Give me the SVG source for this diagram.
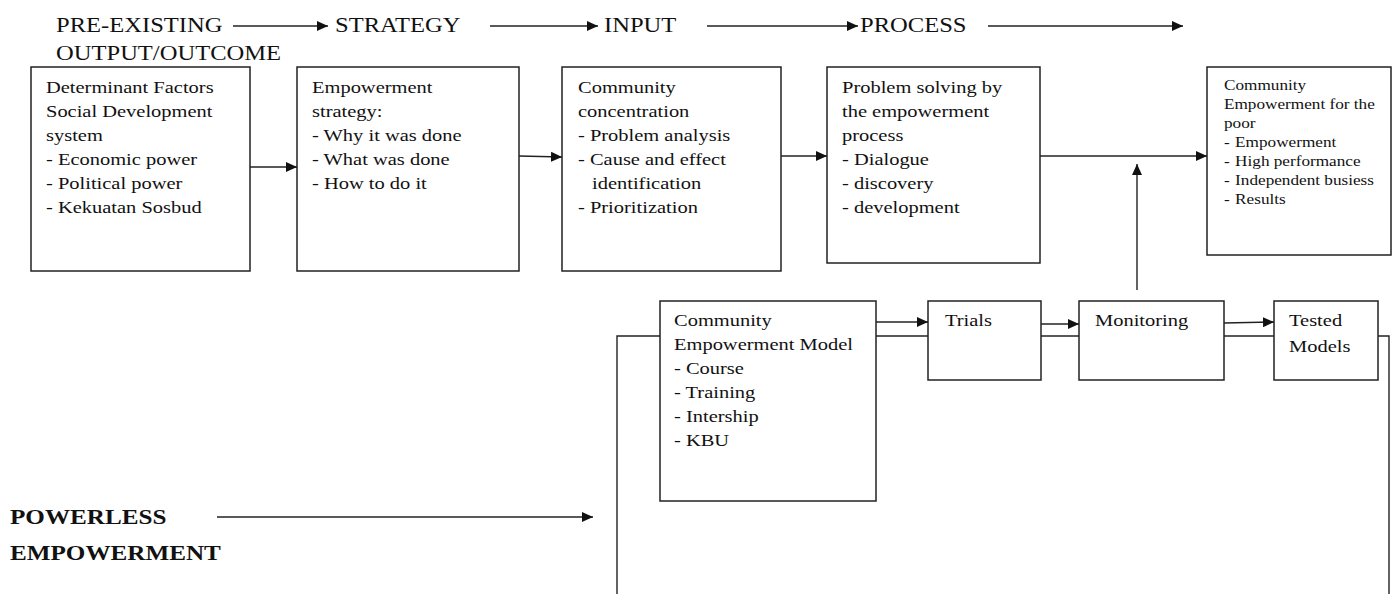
<svg xmlns="http://www.w3.org/2000/svg" width="1395" height="594" viewBox="0 0 1395 594">
<style>
  .box { fill: #fff; stroke: #222; stroke-width: 1.5; }
  .ln { fill: none; stroke: #222; stroke-width: 1.4; }
  text { font-family: "Liberation Serif", "Times New Roman", serif; fill: #111; }
  .hd { font-size: 21px; }
  .t { font-size: 17.5px; }
  .s { font-size: 14.7px; }
  .b { font-size: 21.5px; font-weight: bold; }
</style>
<defs>
  <marker id="ah" markerUnits="userSpaceOnUse" markerWidth="12" markerHeight="10" refX="11" refY="5" orient="auto">
    <path d="M0,0 L11,5 L0,10 Z" fill="#111"/>
  </marker>
</defs>
<rect width="1395" height="594" fill="#fff"/>

<g id="headers">
  <g transform="translate(56,0) scale(1.17,1)"><text class="hd" x="0" y="32">PRE-EXISTING</text><text class="hd" x="0" y="60">OUTPUT/OUTCOME</text></g>
  <g transform="translate(335,0) scale(1.17,1)"><text class="hd" x="0" y="32">STRATEGY</text></g>
  <g transform="translate(604,0) scale(1.17,1)"><text class="hd" x="0" y="32">INPUT</text></g>
  <g transform="translate(860,0) scale(1.17,1)"><text class="hd" x="0" y="32">PROCESS</text></g>
</g>

<g id="n-determinant">
  <rect class="box" x="31" y="67" width="219" height="204"/>
  <g transform="translate(46,0) scale(1.17,1)">
    <text class="t" x="0" y="93">Determinant Factors</text>
    <text class="t" x="0" y="117">Social Development</text>
    <text class="t" x="0" y="141">system</text>
    <text class="t" x="0" y="165">- Economic power</text>
    <text class="t" x="0" y="189">- Political power</text>
    <text class="t" x="0" y="213">- Kekuatan Sosbud</text>
  </g>
</g>

<g id="n-strategy">
  <rect class="box" x="297" y="67" width="222" height="204"/>
  <g transform="translate(312,0) scale(1.17,1)">
    <text class="t" x="0" y="93">Empowerment</text>
    <text class="t" x="0" y="117">strategy:</text>
    <text class="t" x="0" y="141">- Why it was done</text>
    <text class="t" x="0" y="165">- What was done</text>
    <text class="t" x="0" y="189">- How to do it</text>
  </g>
</g>

<g id="n-input">
  <rect class="box" x="562" y="67" width="219" height="204"/>
  <g transform="translate(578,0) scale(1.17,1)">
    <text class="t" x="0" y="93">Community</text>
    <text class="t" x="0" y="117">concentration</text>
    <text class="t" x="0" y="141">- Problem analysis</text>
    <text class="t" x="0" y="165">- Cause and effect</text>
    <text class="t" x="12" y="189">identification</text>
    <text class="t" x="0" y="213">- Prioritization</text>
  </g>
</g>

<g id="n-process">
  <rect class="box" x="827" y="67" width="213" height="196"/>
  <g transform="translate(842,0) scale(1.17,1)">
    <text class="t" x="0" y="93">Problem solving by</text>
    <text class="t" x="0" y="117">the empowerment</text>
    <text class="t" x="0" y="141">process</text>
    <text class="t" x="0" y="165">- Dialogue</text>
    <text class="t" x="0" y="189">- discovery</text>
    <text class="t" x="0" y="213">- development</text>
  </g>
</g>

<g id="n-outcome">
  <rect class="box" x="1207" y="67" width="184" height="188"/>
  <g transform="translate(1224,0) scale(1.17,1)">
    <text class="s" x="0" y="90">Community</text>
    <text class="s" x="0" y="109">Empowerment for the</text>
    <text class="s" x="0" y="128">poor</text>
    <text class="s" x="0" y="147">-</text><text class="s" x="9.5" y="147">Empowerment</text>
    <text class="s" x="0" y="166">-</text><text class="s" x="9.5" y="166">High performance</text>
    <text class="s" x="0" y="185">-</text><text class="s" x="9.5" y="185">Independent busiess</text>
    <text class="s" x="0" y="204">-</text><text class="s" x="9.5" y="204">Results</text>
  </g>
</g>

<g id="n-model">
  <rect class="box" x="660" y="301" width="216" height="200"/>
  <g transform="translate(674,0) scale(1.17,1)">
    <text class="t" x="0" y="326">Community</text>
    <text class="t" x="0" y="350">Empowerment Model</text>
    <text class="t" x="0" y="374">- Course</text>
    <text class="t" x="0" y="398">- Training</text>
    <text class="t" x="0" y="422">- Intership</text>
    <text class="t" x="0" y="446">- KBU</text>
  </g>
</g>

<g id="n-trials">
  <rect class="box" x="928" y="301" width="113" height="79"/>
  <g transform="translate(945,0) scale(1.17,1)"><text class="t" x="0" y="326">Trials</text></g>
</g>

<g id="n-monitoring">
  <rect class="box" x="1079" y="301" width="145" height="79"/>
  <g transform="translate(1095,0) scale(1.17,1)"><text class="t" x="0" y="326">Monitoring</text></g>
</g>

<g id="n-tested">
  <rect class="box" x="1274" y="301" width="104" height="79"/>
  <g transform="translate(1289,0) scale(1.17,1)">
    <text class="t" x="0" y="326">Tested</text>
    <text class="t" x="0" y="352">Models</text>
  </g>
</g>

<g id="labels-bottom">
  <g transform="translate(10,0) scale(1.17,1)">
    <text class="b" x="0" y="524">POWERLESS</text>
    <text class="b" x="0" y="560">EMPOWERMENT</text>
  </g>
</g>

<g id="connectors">
  <line class="ln" x1="233" y1="26" x2="328" y2="26" marker-end="url(#ah)"/>
  <line class="ln" x1="490" y1="26" x2="598" y2="26" marker-end="url(#ah)"/>
  <line class="ln" x1="707" y1="26" x2="858" y2="26" marker-end="url(#ah)"/>
  <line class="ln" x1="988" y1="26" x2="1183" y2="26" marker-end="url(#ah)"/>

  <line class="ln" x1="250" y1="167" x2="297" y2="167" marker-end="url(#ah)"/>
  <line class="ln" x1="519" y1="156" x2="562" y2="157" marker-end="url(#ah)"/>
  <line class="ln" x1="781" y1="156" x2="827" y2="156" marker-end="url(#ah)"/>
  <line class="ln" x1="1040" y1="156" x2="1207" y2="156" marker-end="url(#ah)"/>
  <line class="ln" x1="1137" y1="290" x2="1137" y2="164" marker-end="url(#ah)"/>

  <line class="ln" x1="876" y1="322" x2="928" y2="322" marker-end="url(#ah)"/>
  <line class="ln" x1="1041" y1="324" x2="1079" y2="324" marker-end="url(#ah)"/>
  <line class="ln" x1="1224" y1="323" x2="1274" y2="322" marker-end="url(#ah)"/>

  <polyline class="ln" points="617,594 617,336 660,336"/>
  <line class="ln" x1="876" y1="336" x2="928" y2="336"/>
  <line class="ln" x1="1041" y1="336" x2="1079" y2="336"/>
  <line class="ln" x1="1224" y1="336" x2="1274" y2="336"/>
  <polyline class="ln" points="1378,336 1389,336 1389,594"/>

  <line class="ln" x1="217" y1="517" x2="593" y2="517" marker-end="url(#ah)"/>
</g>
</svg>
